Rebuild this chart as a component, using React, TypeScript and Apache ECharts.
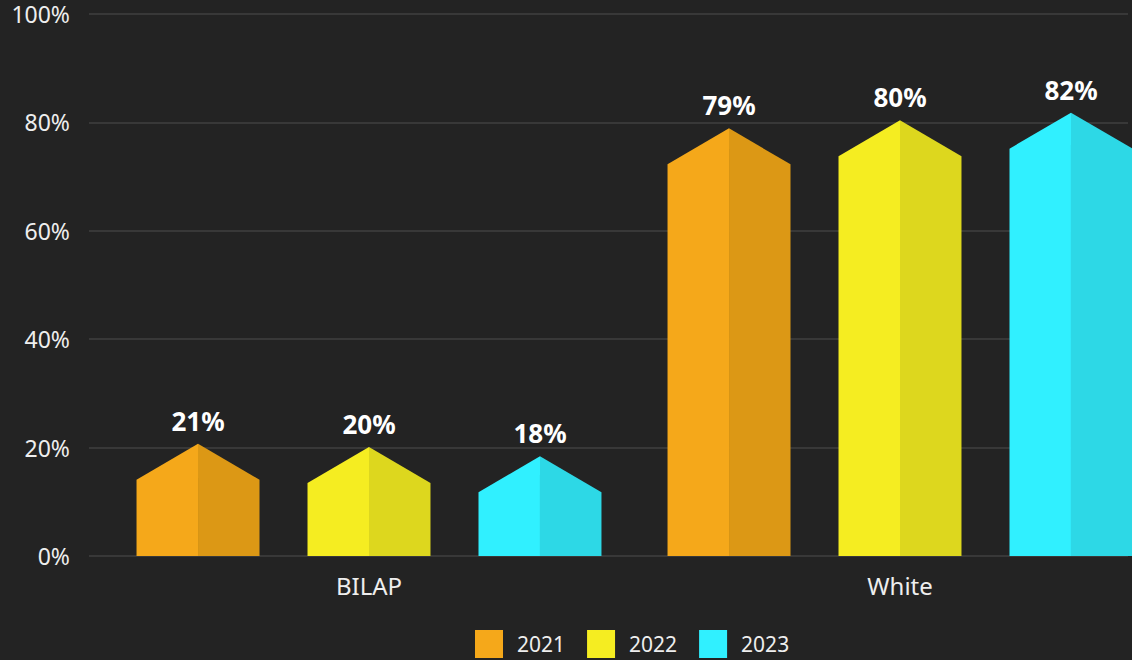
import React, { useEffect, useRef } from "react";
import * as echarts from "echarts";

const categories = ["BILAP", "White"];
const years = ["2021", "2022", "2023"];
const values2021 = [20.7, 78.9];
const values2022 = [20.1, 80.4];
const values2023 = [18.4, 81.8];
const seriesValues = [values2021, values2022, values2023];
const lightColors = ["#F5A81A", "#F5ED21", "#30F0FF"];
const darkColors = ["#DC9815", "#DDD71E", "#2DD8E6"];

const FONT = '"Noto Sans", "Open Sans", sans-serif';
const CHART_W = 1300;

export default function App() {
  const ref = useRef<HTMLDivElement>(null);
  useEffect(() => {
    if (!ref.current) return;
    const chart = echarts.init(ref.current, undefined, { renderer: "svg" });
    const series: any[] = seriesValues.map((vals, sIdx) => ({
      type: "custom",
      name: years[sIdx],
      xAxisIndex: 1,
      yAxisIndex: 1,
      itemStyle: { color: lightColors[sIdx] },
      data: vals.map((v, i) => [i, v]),
      renderItem: (params: any, api: any) => {
        const cat = api.value(0);
        const val = api.value(1);
        const top = api.coord([cat, val]);
        const base = api.coord([cat, 0]);
        const band = api.size([1, 0])[0];
        const xc = top[0] + (sIdx - 1) * band * 0.322;
        const hw = (band * 0.2316) / 2;
        const shoulder = top[1] + 36;
        return {
          type: "group",
          children: [
            {
              type: "polygon",
              shape: {
                points: [
                  [xc - hw, base[1]],
                  [xc - hw, shoulder],
                  [xc, top[1]],
                  [xc, base[1]],
                ],
              },
              style: { fill: lightColors[sIdx] },
            },
            {
              type: "polygon",
              shape: {
                points: [
                  [xc, base[1]],
                  [xc, top[1]],
                  [xc + hw, shoulder],
                  [xc + hw, base[1]],
                ],
              },
              style: { fill: darkColors[sIdx] },
            },
            {
              type: "text",
              x: xc,
              y: top[1] - 23,
              style: {
                text: Math.round(val) + "%",
                fill: "#ffffff",
                font: `bold 26px ${FONT}`,
                align: "center",
                verticalAlign: "middle",
              },
            },
          ],
        };
      },
    }));

    chart.setOption({
      animation: false,
      backgroundColor: "#232323",
      grid: [
        { left: 89, width: 1039, top: 14, bottom: 104 },
        { left: 103.5, width: 1062, top: 14, bottom: 104 },
      ],
      legend: {
        data: years,
        left: 470,
        top: 625,
        itemWidth: 28,
        itemHeight: 28,
        itemGap: 22,
        icon: "rect",
        textStyle: {
          color: "#eeeeee",
          fontSize: 21,
          fontFamily: FONT,
          padding: [0, 0, 0, 9],
        },
      },
      xAxis: [
        {
          type: "category",
          gridIndex: 0,
          data: categories,
          show: false,
        },
        {
          type: "category",
          gridIndex: 1,
          data: categories,
          axisLine: { show: false },
          axisTick: { show: false },
          splitLine: { show: false },
          axisLabel: {
            color: "#eeeeee",
            fontSize: 24,
            fontFamily: FONT,
            margin: 17,
          },
        },
      ],
      yAxis: [
        {
          type: "value",
          gridIndex: 0,
          min: 0,
          max: 100,
          interval: 20,
          axisLine: { show: false },
          axisTick: { show: false },
          splitLine: { lineStyle: { color: "#383838", width: 2 } },
          axisLabel: {
            formatter: "{value}%",
            color: "#eeeeee",
            fontSize: 23,
            fontFamily: FONT,
            margin: 19,
          },
        },
        {
          type: "value",
          gridIndex: 1,
          min: 0,
          max: 100,
          interval: 20,
          show: false,
        },
      ],
      series,
    });
    return () => chart.dispose();
  }, []);
  return (
    <div
      style={{
        position: "fixed",
        left: 0,
        top: 0,
        width: 1132,
        height: 660,
        overflow: "hidden",
        background: "#232323",
      }}
    >
      <div ref={ref} style={{ width: CHART_W, height: 660 }} />
    </div>
  );
}
